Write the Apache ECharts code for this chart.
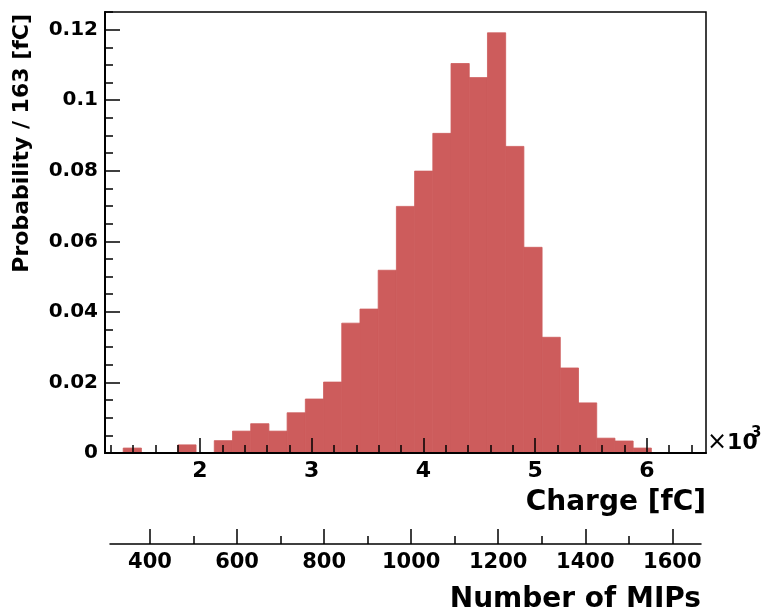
<!DOCTYPE html>
<html><head><meta charset="utf-8">
<script src="https://cdn.jsdelivr.net/npm/echarts@6/dist/echarts.min.js"></script>
<style>html,body{margin:0;padding:0;background:#fff}#c{width:764px;height:614px}</style>
</head><body><div id="c"></div><script>
// ---- data ----
const binStart = 1150;   // fC, lower edge of first bin
const binWidth = 163;    // fC
const binCount = 33;
const probability = [0, 0.0014, 0, 0, 0.0023, 0, 0.0035, 0.0062, 0.0083, 0.0062,
  0.0114, 0.0153, 0.0201, 0.0368, 0.0408, 0.0518, 0.0699, 0.0799, 0.0906, 0.1104,
  0.1064, 0.1191, 0.0869, 0.0583, 0.0328, 0.0241, 0.0142, 0.0042, 0.0034, 0.0014,
  0, 0, 0];
const chargeMajorTicks = [2000, 3000, 4000, 5000, 6000];
const chargeMinorTicks = [1200, 1400, 1600, 1800, 2200, 2400, 2600, 2800, 3200, 3400, 3600, 3800,
  4200, 4400, 4600, 4800, 5200, 5400, 5600, 5800, 6200, 6400];
const probMajorTicks = [0, 0.02, 0.04, 0.06, 0.08, 0.1, 0.12];
const probMinorTicks = [0.005, 0.01, 0.015, 0.025, 0.03, 0.035, 0.045, 0.05, 0.055, 0.065, 0.07, 0.075,
  0.085, 0.09, 0.095, 0.105, 0.11, 0.115, 0.125];
const mipMajorTicks = [400, 600, 800, 1000, 1200, 1400, 1600];
const mipMinorTicks = [500, 700, 900, 1100, 1300, 1500];
const mipMin = 308.1, mipMax = 1665.9;
const probMax = 0.125;

// ---- chart ----
const FONT = 'DejaVu Sans';
const BAR = '#cd5c5c';
const chargeMax = binStart + binCount * binWidth;
const histData = probability.map((p, i) => [binStart + i * binWidth, binStart + (i + 1) * binWidth, p]);

const chart = echarts.init(document.getElementById('c'), null, {renderer: 'canvas'});
const lbl = (size) => ({color: '#000', fontFamily: FONT, fontWeight: 'bold', fontSize: size});

chart.setOption({
  animation: false,
  backgroundColor: '#fff',
  grid: [
    {left: 105, top: 12, right: 58, bottom: 161, show: true, borderColor: '#000', borderWidth: 1.5, backgroundColor: 'transparent'},
    {left: 110, right: 63, top: 543, height: 1, show: false}
  ],
  xAxis: [
    {type: 'value', gridIndex: 0, min: binStart, max: chargeMax, position: 'bottom', z: 10,
     axisLine: {show: true, lineStyle: {color: '#000', width: 2}},
     axisTick: {show: true, inside: true, length: 15, customValues: chargeMajorTicks, lineStyle: {color: '#000', width: 1.5}},
     axisLabel: {show: true, customValues: chargeMajorTicks, margin: 7, hideOverlap: false,
       formatter: v => String(Math.round(v / 1000)), ...lbl(22)},
     splitLine: {show: false},
     name: 'Charge [fC]', nameLocation: 'end', nameGap: 0,
     nameTextStyle: {...lbl(28), align: 'right', verticalAlign: 'top', padding: [36, 0, 0, 0]}
    },
    {type: 'value', gridIndex: 0, min: binStart, max: chargeMax, position: 'bottom', offset: 0, z: 10,
     axisLine: {show: false},
     axisTick: {show: true, inside: true, length: 8, customValues: chargeMinorTicks, lineStyle: {color: '#000', width: 1.5}},
     axisLabel: {show: false}, splitLine: {show: false}
    },
    {type: 'value', gridIndex: 1, min: mipMin, max: mipMax, position: 'bottom', z: 10,
     axisLine: {show: true, lineStyle: {color: '#000', width: 1.5}},
     axisTick: {show: true, inside: true, length: 15, customValues: mipMajorTicks, lineStyle: {color: '#000', width: 1.5}},
     axisLabel: {show: true, customValues: mipMajorTicks, margin: 8, hideOverlap: false,
       formatter: v => String(Math.round(v)), ...lbl(21)},
     splitLine: {show: false},
     name: 'Number of MIPs', nameLocation: 'end', nameGap: 0,
     nameTextStyle: {...lbl(28), align: 'right', verticalAlign: 'top', padding: [42, 0, 0, 0]}
    },
    {type: 'value', gridIndex: 1, min: mipMin, max: mipMax, position: 'bottom', offset: 0, z: 10,
     axisLine: {show: false},
     axisTick: {show: true, inside: true, length: 8, customValues: mipMinorTicks, lineStyle: {color: '#000', width: 1.5}},
     axisLabel: {show: false}, splitLine: {show: false}
    }
  ],
  yAxis: [
    {type: 'value', gridIndex: 0, min: 0, max: probMax, position: 'left', z: 10,
     axisLine: {show: true, lineStyle: {color: '#000', width: 2}},
     axisTick: {show: true, inside: true, length: 15, customValues: probMajorTicks, lineStyle: {color: '#000', width: 1.5}},
     axisLabel: {show: true, customValues: probMajorTicks, margin: 7, hideOverlap: false,
       formatter: v => String(+(+v).toFixed(3)), ...lbl(20)},
     splitLine: {show: false}
    },
    {type: 'value', gridIndex: 0, min: 0, max: probMax, position: 'left', offset: 0, z: 10,
     axisLine: {show: false},
     axisTick: {show: true, inside: true, length: 8, customValues: probMinorTicks, lineStyle: {color: '#000', width: 1.5}},
     axisLabel: {show: false}, splitLine: {show: false}
    },
    {type: 'value', gridIndex: 1, show: false, min: 0, max: 1}
  ],
  series: [{
    type: 'custom',
    xAxisIndex: 0, yAxisIndex: 0,
    data: histData,
    encode: {x: [0, 1], y: 2},
    renderItem: function (params, api) {
      const lo = api.value(0), hi = api.value(1), v = api.value(2);
      if (!v) return null;
      const p0 = api.coord([lo, v]);
      const p1 = api.coord([hi, 0]);
      return {type: 'rect', shape: {x: p0[0], y: p0[1], width: p1[0] - p0[0], height: p1[1] - p0[1]},
              style: {fill: BAR, stroke: BAR, lineWidth: 0.8}};
    },
    z: 2
  }],
  graphic: [
    {type: 'text', x: 22, y: 14, rotation: Math.PI / 2,
     style: {text: 'Probability / 163 [fC]', fill: '#000', font: 'bold 22px "DejaVu Sans"', align: 'right', verticalAlign: 'middle'}},
    {type: 'text', x: 707, y: 443,
     style: {text: '{x|×}{b|10}', align: 'left', verticalAlign: 'middle',
       rich: {x: {fontFamily: FONT, fontSize: 24, fill: '#000', color: '#000'},
              b: {fontFamily: FONT, fontWeight: 'bold', fontSize: 22, fill: '#000', color: '#000'}}}},
    {type: 'text', x: 751, y: 433,
     style: {text: '3', fill: '#000', font: 'bold 15px "DejaVu Sans"', align: 'left', verticalAlign: 'middle'}}
  ]
});
</script></body></html>
